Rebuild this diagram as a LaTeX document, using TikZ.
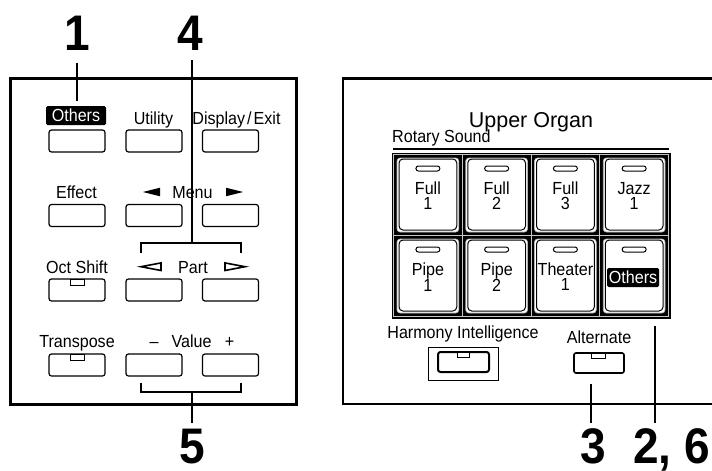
\documentclass[tikz,border=0pt]{standalone}
\usepackage{fontspec}
\setmainfont{Liberation Sans}[FakeStretch=0.92]
\newfontfamily\upperfont{Liberation Sans}
\tikzset{
  panel/.style={line width=2.4pt},
  lead/.style={line width=2.4pt},
  btn/.style={draw, line width=1.2pt, rounded corners=2.5pt, minimum width=56pt, minimum height=22pt, inner sep=0pt},
  lbl/.style={font=\fontsize{17.5}{19}\selectfont, inner sep=0pt, anchor=base},
  num/.style={font=\fontsize{50}{52}\selectfont\bfseries, inner sep=0pt, anchor=base},
  hl/.style={fill=black, text=white, rounded corners=1.5pt, font=\fontsize{17.5}{19}\selectfont, inner sep=0pt, text height=12.5pt, text depth=0pt, minimum height=19pt},
  led/.style={draw, line width=1pt, fill=white},
  keylbl/.style={font=\fontsize{17.5}{15}\selectfont, inner sep=0pt, align=center, anchor=center}
}
\newcommand\organkey[4]{%
  \draw[fill=white, draw=gray!60, line width=0.6pt, rounded corners=3pt] (#1+3.5,#2+3.5) rectangle (#1+65.25,#2+77.5);
  \draw[line width=1pt, rounded corners=4pt] (#1+5.5,#2+4.5) rectangle (#1+63.25,#2+75.5);
  \draw[led, rounded corners=2.5pt] (#1+22.4,#2+11.5) rectangle (#1+46.4,#2+16.5);
  \node[keylbl] (#3) at (#1+34.4,#2+41.6) {#4};
}
\begin{document}
\begin{tikzpicture}[x={(1pt,0)}, y={(0,-1pt)}]
\useasboundingbox (0,0) rectangle (712,471);
\fill[white] (0,0) rectangle (712,471);

% ---------- left panel ----------
\draw[panel] (10.5,78.5) rectangle (296.5,404.5);

% row 1
\node[hl, minimum width=60pt] (othersL) at (76,115.5) {Others};
\node[lbl] (utilL) at (153.5,124) {Utility};
\node[lbl] (dispL) at (236.5,124) {Display\kern2pt/\kern2pt{}Exit};
\node[btn] (b11) at (77,141) {};
\node[btn] (b12) at (154,141) {};
\node[btn] (b13) at (230.5,141) {};

% row 2
\node[lbl] (effL) at (76.5,198) {Effect};
\fill (143,192) -- (160,187.7) -- (160,196.3) -- cycle;
\node[lbl] (menuL) at (192.5,198) {Menu};
\fill (243,192) -- (226,187.7) -- (226,196.3) -- cycle;
\node[btn] (b21) at (77,215.5) {};
\node[btn] (b22) at (154,215.5) {};
\node[btn] (b23) at (230.5,215.5) {};

% row 3
\node[lbl] (octL) at (77,273) {Oct Shift};
\draw[line width=1.6pt, line join=miter] (141,266.7) -- (161,262.9) -- (161,270.5) -- cycle;
\node[lbl] (partL) at (193,273) {Part};
\draw[line width=1.6pt, line join=miter] (245,266.7) -- (225,262.9) -- (225,270.5) -- cycle;
\node[btn] (b31) at (77,290) {};
\node[btn] (b32) at (154,290) {};
\node[btn] (b33) at (230.5,290) {};
\draw[led] (70,279) rectangle (84,285);

% row 4
\node[lbl] (trL) at (77,347) {Transpose};
\node[lbl] (minusL) at (154,347) {–};
\node[lbl] (valL) at (191.5,347) {Value};
\node[lbl] (plusL) at (229.5,347) {+};
\node[btn] (b41) at (77,365) {};
\node[btn] (b42) at (154,365) {};
\node[btn] (b43) at (230.5,365) {};
\draw[led] (70,354) rectangle (84,360);

% leaders left
\node[num] (n1) at (77,50) {1};
\node[num] (n4) at (190,50) {4};
\node[num] (n5) at (192,463) {5};
\coordinate (c1a) at (77,63);
\coordinate (c1b) at (77,101);
\draw[lead] (c1a) -- (c1b);
\coordinate (c4a) at (192,60);
\coordinate (c4b) at (192,243);
\draw[lead] (c4a) -- (c4b);
\draw[lead, line join=miter] (141,253) -- (141,243) -- (241,243) -- (241,253);
\coordinate (c5a) at (192,392);
\coordinate (c5b) at (192,423);
\draw[lead, line join=miter] (141,383) -- (141,392) -- (241,392) -- (241,383);
\draw[lead] (c5a) -- (c5b);

% ---------- right panel ----------
\draw[panel] (714,78.5) -- (342.7,78.5) -- (342.7,404) -- (714,404);
\node[lbl, font=\fontsize{21.5}{24}\upperfont] (upper) at (531,127) {Upper Organ};
\node[lbl, anchor=base west] (rotary) at (392,142) {Rotary Sound};
\draw[line width=1.6pt] (393,149) -- (669,149);

\fill (391.5,152.5) rectangle (670.5,318.5);
\draw[gray!45, line width=0.8pt] (393.8,154.8) rectangle (668.2,316.2);
\draw[gray!45, line width=0.8pt] (462.25,154.8) -- (462.25,316.2);
\draw[gray!45, line width=0.8pt] (531,154.8) -- (531,316.2);
\draw[gray!45, line width=0.8pt] (599.75,154.8) -- (599.75,316.2);
\draw[gray!45, line width=0.8pt] (393.8,235.5) -- (668.2,235.5);

\organkey{393.5}{154.5}{k1}{Full\\1}
\organkey{462.25}{154.5}{k2}{Full\\2}
\organkey{531}{154.5}{k3}{Full\\3}
\organkey{599.75}{154.5}{k4}{Jazz\\1}
\organkey{393.5}{235.5}{k5}{Pipe\\1}
\organkey{462.25}{235.5}{k6}{Pipe\\2}
\organkey{531}{235.5}{k7}{Theater\\1}
% last key with highlighted label
\draw[fill=white, draw=gray!60, line width=0.6pt, rounded corners=3pt] (603.25,239) rectangle (665,313);
\draw[line width=1pt, rounded corners=4pt] (605.25,240) rectangle (663,311);
\draw[led, rounded corners=2.5pt] (622.15,247) rectangle (646.15,252);
\node[hl, minimum width=52pt] (othersR) at (633,277.5) {Others};

% Harmony Intelligence
\node[lbl] (harmL) at (463,338) {Harmony Intelligence};
\draw[line width=1pt] (428,347) rectangle (498,380);
\draw[line width=2pt, rounded corners=2.5pt] (438,352) rectangle (489,372);
\draw[led] (457,352) rectangle (469,357);

% Alternate
\node[lbl] (altL) at (599,343) {Alternate};
\draw[line width=1.6pt, rounded corners=2pt] (574,353) rectangle (624,373);
\draw[led] (591,353) rectangle (605,358);

% leaders right
\node[num] (n3) at (593,463) {3};
\node[num, anchor=base west] (n26) at (633,463) {2, 6};
\coordinate (c3a) at (591,384);
\coordinate (c3b) at (591,423);
\draw[lead] (c3a) -- (c3b);
\coordinate (c26a) at (655,326);
\coordinate (c26b) at (655,423);
\draw[lead] (c26a) -- (c26b);
\end{tikzpicture}
\end{document}
